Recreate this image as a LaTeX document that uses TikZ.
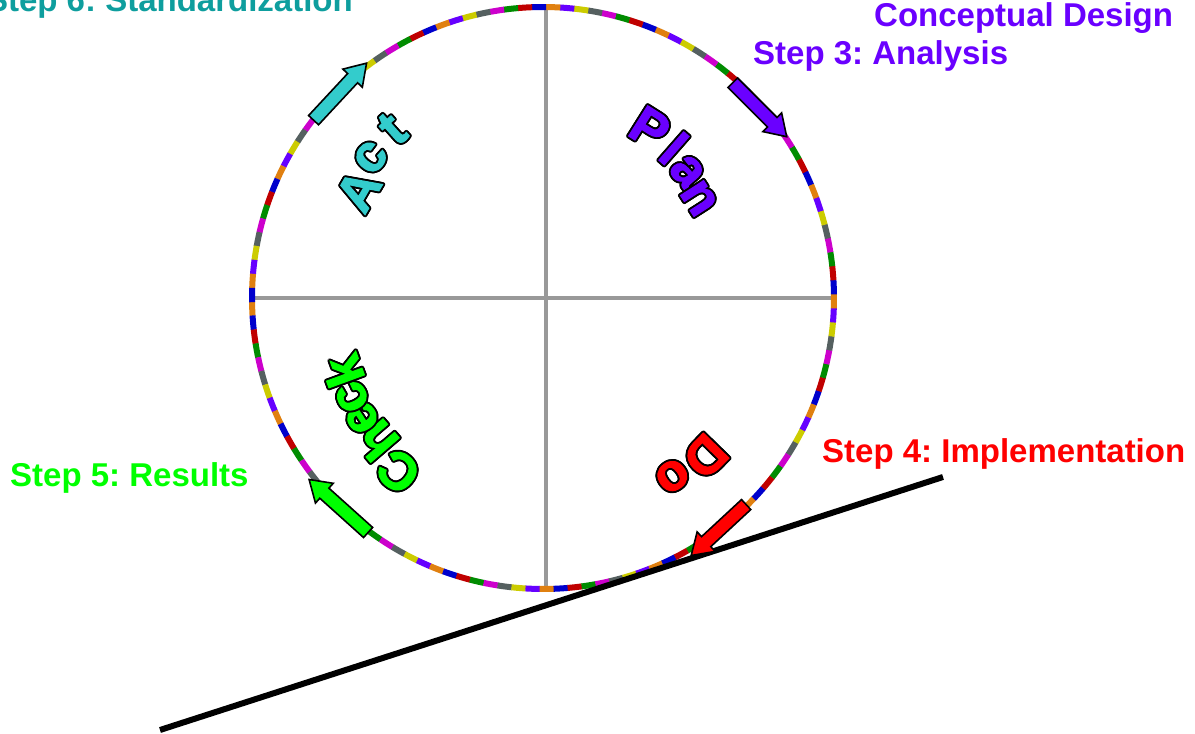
\documentclass[tikz,border=0pt]{standalone}
\usepackage{fontspec}
\setmainfont{Liberation Sans}
\newfontfamily\heavyfont[FakeBold=2]{Liberation Sans Bold}
\usetikzlibrary{calc,shapes.arrows}
\definecolor{seg0}{RGB}{224,128,16}
\definecolor{seg1}{RGB}{0,0,204}
\definecolor{seg2}{RGB}{192,0,0}
\definecolor{seg3}{RGB}{0,140,0}
\definecolor{seg4}{RGB}{204,0,204}
\definecolor{seg5}{RGB}{85,96,96}
\definecolor{seg6}{RGB}{204,204,0}
\definecolor{seg7}{RGB}{102,0,255}
\definecolor{cPur}{RGB}{106,0,255}
\definecolor{cRed}{RGB}{255,0,0}
\definecolor{cGrn}{RGB}{0,255,0}
\definecolor{cTeal}{RGB}{14,158,158}
\definecolor{cCyan}{RGB}{51,204,204}
\definecolor{cCross}{RGB}{153,153,153}
\frenchspacing
\tikzset{
  crossline/.style={line width=4.5pt, draw=cCross},
  blk/.style={single arrow, draw=black, line width=1.6pt, minimum width=25pt,
    single arrow head extend=6.5pt, single arrow tip angle=66, single arrow head indent=0pt,
    inner xsep=0pt, inner ysep=6pt, anchor=center},
  lab/.style={font=\fontsize{33}{36}\selectfont\bfseries, inner sep=0pt},
  wlet/.style={font=\heavyfont\fontsize{52}{56}\selectfont, inner sep=0pt, anchor=center}
}
\newcommand\blockarrow[4]{%
  \path let \p1=(#2), \p2=(#3), \n1={atan2(\y2-\y1,\x2-\x1)}, \n2={veclen(\x2-\x1,\y2-\y1)} in
    node[blk, fill=#4, rotate=\n1, minimum height=\n2] (#1) at ($(#2)!0.5!(#3)$) {};
}
\newcommand\olet[5]{%
  \foreach \a in {0,30,...,330}{\node[wlet, text=black, rotate=#3-90] at ($(C)+(#3:#4)+(\a:1.9)$) {#5};}
  \node[wlet, text=#2, rotate=#3-90] (#1) at ($(C)+(#3:#4)$) {#5};
}
\begin{document}
\begin{tikzpicture}[x=1pt,y=1pt]
\useasboundingbox (0,0) rectangle (1195,734);
\fill[white] (0,0) rectangle (1195,734);
\coordinate (C) at (543,436);
% cross
\coordinate (vt) at (546,726);
\coordinate (vb) at (546,146);
\coordinate (hl) at (252,436);
\coordinate (hr) at (834,436);
\draw[crossline] (vt) -- (vb);
\draw[crossline] (hl) -- (hr);
% multicoloured circle
\foreach \k in {-32,...,97}{
  \pgfmathtruncatemacro\ci{mod(\k+800,8)}
  \pgfmathsetmacro\aa{270.7+\k*2.77-1.385}
  \pgfmathsetmacro\ab{270.7+\k*2.77+1.385+0.06}
  \draw[line width=6pt, color=seg\ci] ($(C)+(\aa:291)$) arc[start angle=\aa, end angle=\ab, radius=291];
}
% ground line
\coordinate (L1) at (160,4);
\coordinate (L2) at (943,257);
\draw[line width=6pt] (L1) -- (L2);
% block arrows
\coordinate (actT) at (310,610);
\coordinate (actH) at (363,667);
\coordinate (planT) at (729,655);
\coordinate (planH) at (783,601);
\coordinate (doT) at (750,233);
\coordinate (doH) at (695,182);
\coordinate (chkT) at (372,198);
\coordinate (chkH) at (313,251);
\blockarrow{actArrow}{actT}{actH}{cCyan}
\blockarrow{planArrow}{planT}{planH}{cPur}
\blockarrow{doArrow}{doT}{doH}{cRed}
\blockarrow{chkArrow}{chkT}{chkH}{cGrn}
% curved words
\olet{pP}{cPur}{57.8}{200.6}{P}
\olet{pL}{cPur}{48.8}{198.9}{l}
\olet{pA}{cPur}{41.2}{191.8}{a}
\olet{pN}{cPur}{32.6}{185.1}{n}
\olet{aA}{cCyan}{149.8}{213.6}{A}
\olet{aC}{cCyan}{140.8}{222.4}{c}
\olet{aT}{cCyan}{131.7}{226.4}{t}
\olet{cC}{cGrn}{230.2}{226}{C}
\olet{cH}{cGrn}{220.7}{219}{h}
\olet{cE}{cGrn}{213.5}{217}{e}
\olet{cCc}{cGrn}{207.4}{215}{c}
\olet{cK}{cGrn}{200.1}{213}{k}
\olet{dD}{cRed}{-44.3}{227}{D}
\olet{dO}{cRed}{-54}{220}{o}
% labels
\node[lab, text=cTeal, anchor=base east] (s6) at (353,722) {Step 6: Standardization};
\node[lab, text=cPur, anchor=base west] (cd) at (874,707) {Conceptual Design};
\node[lab, text=cPur, anchor=base west] (s3) at (753,669) {Step 3: Analysis};
\node[lab, text=cRed, anchor=base west] (s4) at (822,271) {Step 4: Implementation};
\node[lab, text=cGrn, anchor=base west] (s5) at (10,247) {Step 5: Results};
\end{tikzpicture}
\end{document}
